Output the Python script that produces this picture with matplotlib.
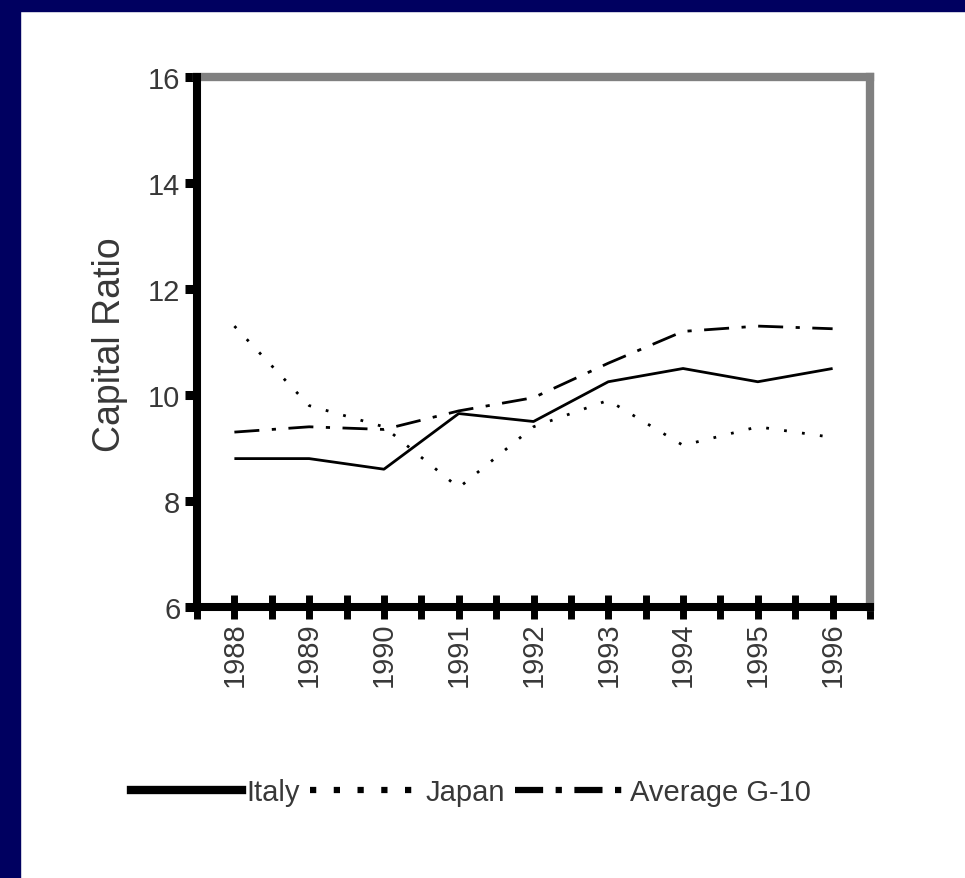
import matplotlib
matplotlib.use("Agg")
import matplotlib.pyplot as plt
from matplotlib.lines import Line2D
from matplotlib.patches import Rectangle
from matplotlib import font_manager

# Datos
years = [1988, 1989, 1990, 1991, 1992, 1993, 1994, 1995, 1996]
italy = [8.8, 8.8, 8.6, 9.65, 9.5, 10.25, 10.5, 10.25, 10.5]
japan = [11.3, 9.8, 9.4, 8.25, 9.4, 9.9, 9.05, 9.4, 9.2]
g10 = [9.3, 9.4, 9.35, 9.7, 9.95, 10.6, 11.2, 11.3, 11.25]
series_names = ["Italy", "Japan", "Average G-10"]
y_ticks = [6, 8, 10, 12, 14, 16]

# fuente estrecha si existe
try:
    font_manager.findfont("Liberation Sans Narrow", fallback_to_default=False)
    fam = ["Liberation Sans Narrow", "DejaVu Sans"]
    fs = 25
except Exception:
    fam = ["Liberation Sans", "DejaVu Sans"]
    fs = 21
plt.rcParams["font.family"] = fam

txt_color = "#383838"
navy = "#000060"

W, H = 965, 879
fig = plt.figure(figsize=(W / 100, H / 100), dpi=100)
fig.patch.set_facecolor("white")

# borde azul marino arriba e izquierda
fig.patches.append(Rectangle((0, 1 - 12 / H), 1, 12 / H, transform=fig.transFigure,
                             color=navy, zorder=0))
fig.patches.append(Rectangle((0, 0), 20 / W, 1, transform=fig.transFigure,
                             color=navy, zorder=0))

left, right, top, bottom = 197, 870, 78, 608
ax = fig.add_axes([left / W, 1 - bottom / H, (right - left) / W, (bottom - top) / H])

ax.plot(years, italy, color="black", lw=2.0, solid_capstyle="butt")
ax.plot(years, japan, color="black", lw=2.0, linestyle=(0, (1, 5.5)))
ax.plot(years, g10, color="black", lw=2.0, linestyle=(0, (9, 4.5, 1.5, 4.5)))

ax.set_xlim(1987.5, 1996.5)
ax.set_ylim(6, 16)

for s in ["left", "bottom"]:
    ax.spines[s].set_color("black")
    ax.spines[s].set_linewidth(5.8)
    ax.spines[s].set_zorder(3)
for s in ["top", "right"]:
    ax.spines[s].set_color("#808080")
    ax.spines[s].set_linewidth(6)
    ax.spines[s].set_zorder(2)

ax.set_yticks(y_ticks)
ax.set_yticklabels([str(v) for v in y_ticks], fontsize=fs, color=txt_color)
ax.tick_params(axis="y", direction="out", length=9, width=6.5, color="black", pad=3)

ax.set_xticks(years)
ax.set_xticks([y + 0.5 for y in [years[0] - 1] + years], minor=True)
ax.set_xticklabels([str(y) for y in years], rotation=90, fontsize=fs, color=txt_color)
ax.tick_params(axis="x", which="both", direction="inout", length=17, width=5,
               color="black", pad=2)

fig.text(110 / W, 1 - 345 / H, "Capital Ratio", rotation=90, ha="center", va="center",
         fontsize=fs + 6, color=txt_color)

# leyenda con lineas mas gruesas
handles = [
    Line2D([], [], color="black", lw=6),
    Line2D([], [], color="black", lw=4.5, linestyle=(0, (1, 2.8))),
    Line2D([], [], color="black", lw=4.5, linestyle=(0, (4.5, 2, 1, 2))),
]
leg = fig.legend(handles, series_names, loc="center", ncol=3, frameon=False,
                 bbox_to_anchor=(471 / W, 1 - 793 / H), fontsize=fs,
                 handlelength=3.8, handletextpad=0.15, columnspacing=0.35)
for t in leg.get_texts():
    t.set_color(txt_color)

fig.savefig("out.png", dpi=100)
